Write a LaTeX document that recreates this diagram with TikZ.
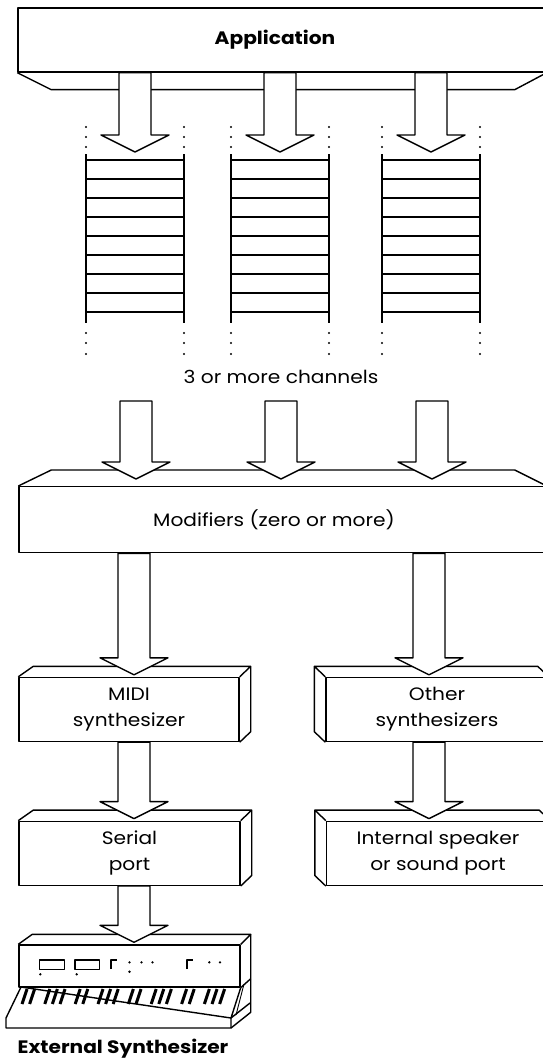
\documentclass[tikz,border=0pt]{standalone}
\usepackage{fontspec}
\setmainfont{Poppins}[FakeStretch=1.12]
\usepackage{tikz}
\usetikzlibrary{calc}

\newcommand{\boxfont}{\fontsize{18}{26}\selectfont}
% hollow arrow from a tail point (#1) to its tip (#2)
\newcommand{\blockarrow}[2]{%
  \draw[fill=white] ($(#1)+(-16,0)$) -- ($(#2)+(-16,-17)$) -- ($(#2)+(-34,-17)$) -- (#2)
    -- ($(#2)+(34,-17)$) -- ($(#2)+(16,-17)$) -- ($(#1)+(16,0)$) -- cycle;}
% top face plus a side face on the right / on the left
\newcommand{\sideright}[1]{%
  \draw (#1.north west) -- ++(15,-10.5) -- ($(#1.north east)+(11,-10.5)$)
    -- ($(#1.south east)+(11,-10.5)$) -- (#1.south east)
    (#1.north east) -- ++(11,-10.5);}
\newcommand{\sideleft}[1]{%
  \draw (#1.north east) -- ++(-11,-10.5) -- ($(#1.north west)+(-11,-10.5)$)
    -- ($(#1.south west)+(-11,-10.5)$) -- (#1.south west)
    (#1.north west) -- ++(-11,-10.5);}

\begin{document}
\begin{tikzpicture}[x=1pt,y=-1pt,line width=1.4pt,line join=round,
  box/.style={draw,minimum height=64pt,inner sep=0pt,align=center,font=\boxfont}]
\useasboundingbox (0,0) rectangle (543,1062);
\clip (0,0) rectangle (543,1062);

% application, seen from below
\node[box,minimum width=528pt] (app) at (282,40) {};
\node[font=\boxfont\bfseries] (apptext) at (275,40) {Application};
\draw (app.south west) -- ++(34,17) -- ($(app.south east)+(-32,17)$) -- (app.south east);

% the channels
\foreach \x [count=\i] in {135,280,431} {
  \draw[line width=2.2pt] (\x-49,154) -- (\x-49,323) (\x+49,154) -- (\x+49,323);
  \foreach \y in {160,179,...,312}
    \draw[line width=1.1pt] (\x-49,\y) -- (\x+49,\y);
  \foreach \y in {127,137,147,333,343,354}
    \fill (\x-49,\y) circle (1.2pt) (\x+49,\y) circle (1.2pt);
  \coordinate (ch\i) at (\x,152);
  \coordinate (from\i) at (ch\i |- app.south);
  \blockarrow{from\i}{ch\i}
}
\node[font=\boxfont] (chan) at (281,377) {3 or more channels};

% modifiers, seen from above
\node[box,minimum width=527pt,minimum height=66pt] (mod) at (282.5,519.7) {};
\node[font=\boxfont] (modtext) at (274,520) {Modifiers (zero or more)};
\draw (mod.north west) -- ++(33,-16) -- ($(mod.north east)+(-32,-16)$) -- (mod.north east);
\foreach \x [count=\i] in {136,281,432} {
  \coordinate (in\i) at (\x,401);
  \coordinate (at\i) at (\x,479);
  \blockarrow{in\i}{at\i}
}

% synthesizers and ports
\node[box,minimum width=220pt] (midi) at (129,709.5) {MIDI\\synthesizer};
\node[box,minimum width=222pt] (other) at (437,709.5) {Other\\synthesizers};
\node[box,minimum width=221pt] (serial) at (129.5,853.3) {Serial\\port};
\node[box,minimum width=223pt] (speaker) at (438,853.3) {Internal speaker\\or sound port};
\sideright{midi}
\sideleft{other}
\sideright{serial}
\sideleft{speaker}

% the keyboard
\node[draw,minimum width=221pt,minimum height=42pt,inner sep=0pt] (synth) at (129.5,966) {};
\draw (synth.north west) -- ++(14,-10) -- ($(synth.north east)+(10,-10)$) -- (synth.north east);
\draw ($(synth.north east)+(10,-10)$) -- ++(0,78) -- (231,1028);
\draw (synth.south east) -- ++(10,-9);
\draw (21,987) -- (6,1018) -- (6,1028) -- (231,1028) -- (231,1018) -- cycle;
\draw (synth.south east) -- (231,1018) -- (250,1003);
\draw[line width=0.9pt] (244,984) -- (236,1015);
\draw (39.3,960) rectangle (64.3,969.3) (75,960) rectangle (99.3,969.3);
\draw[line width=1.8pt] (111,969) -- (111,960) -- (116.5,960) (187,969) -- (187,960) -- (193,960);
\foreach \p in {(40.3,974.3),(76.7,974.3),(129.5,962.3),(129.5,971.7),(141.5,962.3),
  (152.5,962.3),(209.3,962.3),(220,962.3)}
  \fill \p circle (1.3pt);
\foreach \k in {27,34.6,49.8,57.4,65,80.2,87.8,103,110.6,118.2,133.4,141,
  156.2,163.8,171.4,186.6,194.2,209.4,217,224.6}
  \draw[line width=3pt] (\k,989) -- (\k-5,1004);
\node[font=\boxfont\bfseries] (exttext) at (123,1049) {External Synthesizer};

\foreach \s/\t/\c in {mod/midi/134,mod/other/429,midi/serial/134,other/speaker/429,serial/synth/134} {
  \coordinate (col) at (\c,0);
  \coordinate (tail) at (\s.south -| col);
  \coordinate (tip) at ($(\t.north -| col)+(0,-2)$);
  \blockarrow{tail}{tip}
}
\end{tikzpicture}
\end{document}
